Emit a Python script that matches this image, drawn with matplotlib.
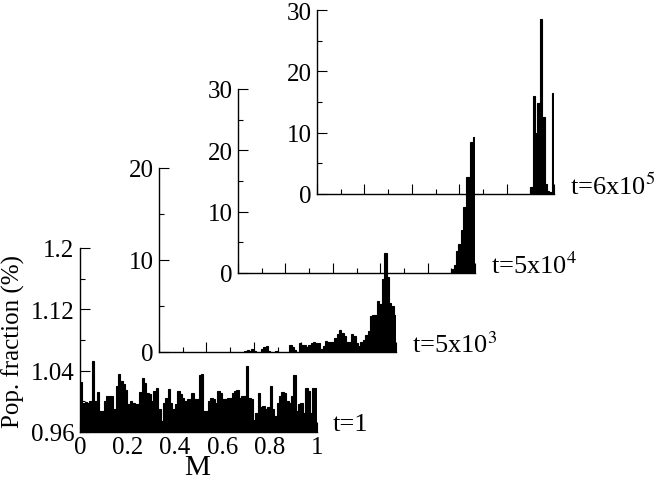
import numpy as np
import matplotlib
matplotlib.use("Agg")
import matplotlib.pyplot as plt
from matplotlib.ticker import MultipleLocator

plt.rcParams['font.family'] = ['Liberation Serif', 'DejaVu Serif']
plt.rcParams['mathtext.fontset'] = 'stix'

# M bins, width 0.01 (left edges)
bin_width = 0.01

# t = 1 : all 100 bins
frac_t1 = [1.025, 0.998, 0.999, 0.998, 1.000, 1.052, 1.000, 1.012, 0.987, 0.988,
           1.000, 1.007, 1.007, 1.007, 0.990, 1.020, 1.036, 1.026, 1.022, 1.015,
           0.996, 1.000, 0.998, 0.996, 0.996, 1.012, 1.031, 1.024, 1.011, 1.009,
           1.000, 1.013, 1.018, 0.990, 0.975, 0.998, 1.005, 1.016, 0.998, 0.990,
           0.996, 1.013, 1.009, 1.005, 1.000, 1.003, 1.003, 1.011, 1.003, 1.003,
           1.035, 1.036, 0.987, 0.987, 1.000, 1.005, 1.003, 0.998, 1.013, 1.011,
           1.003, 1.003, 1.005, 1.005, 1.011, 1.013, 1.015, 1.005, 1.007, 1.007,
           1.046, 1.005, 1.003, 0.976, 0.985, 1.011, 0.992, 0.994, 0.990, 0.992,
           1.020, 0.990, 0.981, 0.998, 1.007, 1.012, 1.011, 1.000, 0.998, 1.007,
           1.034, 0.987, 0.996, 0.998, 0.985, 1.018, 1.013, 0.985, 1.018, 1.018]

# t = 5x10^3 : non-empty bins only
bins_t2 = [36, 37, 38, 39, 40, 43, 44, 45, 46, 49, 55, 56, 57, 59, 60, 61, 62, 63,
           64, 65, 66, 67, 68, 69, 70, 71, 72, 73, 74, 75, 76, 77, 78, 79, 80, 81,
           82, 83, 84, 85, 86, 87, 88, 89, 90, 91, 92, 93, 94, 95, 96, 97, 98, 99]
frac_t2 = [0.15, 0.2, 0.1, 0.35, 0.1, 0.3, 0.58, 0.6, 0.15, 0.1, 0.76, 0.5, 0.2,
           1.0, 0.8, 0.76, 0.5, 0.8, 1.0, 1.05, 0.98, 1.0, 0.3, 0.6, 1.23, 1.05,
           1.05, 1.1, 1.5, 1.96, 2.43, 2.1, 1.78, 1.05, 1.1, 1.96, 1.78, 1.0, 0.7,
           1.05, 1.34, 1.85, 2.32, 3.88, 4.0, 4.02, 5.58, 5.22, 7.93, 10.8, 8.2,
           5.3, 5.0, 4.0]

# t = 5x10^4
bins_t3 = [90, 91, 92, 93, 94, 95, 96, 97, 98, 99]
frac_t3 = [0.6, 1.3, 3.6, 4.8, 7.0, 10.8, 15.7, 15.7, 21.3, 22.2]

# t = 6x10^5
bins_t4 = [90, 91, 92, 93, 94, 95, 96, 97, 98, 99]
frac_t4 = [1.1, 16.0, 10.0, 14.9, 28.5, 12.6, 1.6, 0.5, 0.3, 16.5]

labels = ['t=1', r't=5x10$^{3}$', r't=5x10$^{4}$', r't=6x10$^{5}$']

W, H = 664, 481
fig = plt.figure(figsize=(W / 100, H / 100), dpi=100)

# panel boxes in pixels: left, bottom(y from top)
boxes = [(80, 433), (159, 353), (238, 274), (317, 195)]
pw, ph = 237, 184


def make_ax(left, bottom):
    ax = fig.add_axes([left / W, (H - bottom) / H, pw / W, ph / H])
    ax.set_facecolor('none')
    for s in ['top', 'right']:
        ax.spines[s].set_visible(False)
    for s in ['left', 'bottom']:
        ax.spines[s].set_linewidth(1.0)
    ax.set_xlim(0, 1)
    ax.xaxis.set_major_locator(MultipleLocator(0.2))
    ax.xaxis.set_minor_locator(MultipleLocator(0.1))
    ax.tick_params(which='both', direction='in', width=0.8, labelsize=18, pad=4)
    ax.tick_params(which='major', length=7)
    ax.tick_params(which='minor', length=3.5)
    ax.tick_params(top=False, right=False, which='both')
    return ax


def bars(ax, x, h):
    ax.bar(x, h, width=bin_width, align='edge', color='black',
           edgecolor='black', linewidth=0.8)


# t=1
ax1 = make_ax(*boxes[0])
m1 = np.arange(len(frac_t1)) * bin_width
bars(ax1, m1, frac_t1)
ax1.set_ylim(0.96, 1.2)
ax1.yaxis.set_minor_locator(MultipleLocator(0.04))
ax1.set_yticks([0.96, 1.04, 1.12, 1.2])
ax1.set_yticklabels(['0.96', '1.04', '1.12', '1.2'])
ax1.set_xticks([0, 0.2, 0.4, 0.6, 0.8, 1.0])
ax1.set_xticklabels(['0', '0.2', '0.4', '0.6', '0.8', '1'])
ax1.tick_params(axis='x', pad=3)

# upper panels
others = [(bins_t2, frac_t2, 20), (bins_t3, frac_t3, 30), (bins_t4, frac_t4, 30)]
for (b, f, top), box in zip(others, boxes[1:]):
    ax = make_ax(*box)
    bars(ax, np.array(b) * bin_width, f)
    ax.set_ylim(0, top)
    ax.yaxis.set_major_locator(MultipleLocator(10))
    ax.yaxis.set_minor_locator(MultipleLocator(5))
    ax.tick_params(axis='x', labelbottom=False)

# time labels
for lab, (l, b) in zip(labels, boxes):
    fig.text((l + pw + 16) / W, 1 - (b - 8) / H, lab, fontsize=19,
             ha='left', va='center')

fig.text(13 / W, 1 - 342 / H, 'Pop. fraction (%)', rotation=90, fontsize=18,
         ha='center', va='center')
fig.text(197 / W, 1 - 468 / H, 'M', fontsize=21, ha='center', va='center')

fig.savefig('out.png', dpi=100)
